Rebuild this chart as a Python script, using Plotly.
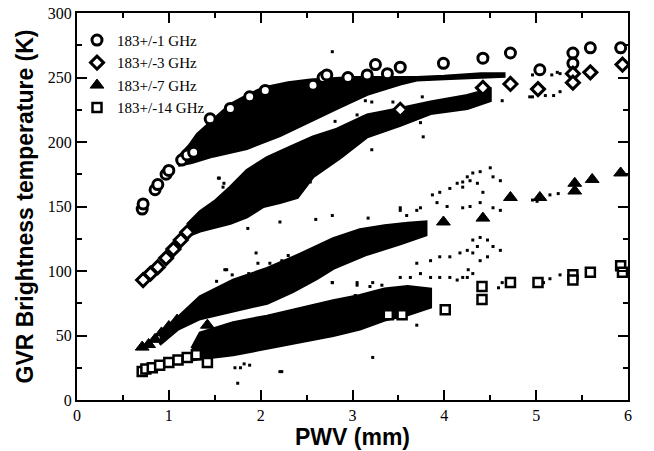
import plotly.graph_objects as go

# ---------------- data ----------------
channels = ["183+/-1 GHz", "183+/-3 GHz", "183+/-7 GHz", "183+/-14 GHz"]

# model points (large symbols)
m1_pwv = [0.71, 0.72, 0.85, 0.88, 0.97, 1.00, 1.14, 1.20, 1.27, 1.45, 1.67, 1.88, 2.05, 2.57, 2.68,
          2.72, 2.95, 3.16, 3.25, 3.38, 3.52, 3.99, 4.42, 4.72, 5.04, 5.40, 5.40, 5.59, 5.92]
m1_tb = [148, 152, 163, 167, 175, 178, 186, 190, 192, 218, 226, 235, 240, 244, 250,
         252, 250, 252, 260, 253, 258, 261, 265, 269, 256, 269, 261, 273, 273]

m3_pwv = [0.72, 0.80, 0.88, 0.97, 1.05, 1.13, 1.20, 3.52, 4.42, 4.72, 5.02, 5.40, 5.40, 5.59, 5.94]
m3_tb = [93, 98, 103, 110, 117, 124, 130, 225, 242, 245, 241, 253, 246, 254, 260]

m7_pwv = [0.71, 0.78, 0.85, 0.92, 1.00, 1.09, 1.42, 3.99, 4.42, 4.72, 5.04, 5.42, 5.42, 5.61, 5.92]
m7_tb = [41, 43, 47, 52, 57, 62, 58, 138, 141, 157, 157, 168, 162, 171, 176]

m14_pwv = [0.71, 0.75, 0.82, 0.90, 1.00, 1.10, 1.20, 1.30, 1.42, 3.39, 3.54, 4.01, 4.41, 4.41,
           4.72, 5.02, 5.40, 5.40, 5.59, 5.92, 5.94]
m14_tb = [22, 24, 25, 27, 29, 31, 33, 35, 29, 66, 66, 70, 88, 78,
          91, 91, 97, 93, 99, 104, 99]

# dense measurement clouds: upper and lower outline of each band
b1_up_pwv = [1.10, 1.22, 1.31, 1.45, 1.67, 1.85, 2.03, 2.30, 2.54, 3.00, 3.70, 4.00, 4.40, 4.65]
b1_up_tb = [188, 197, 206, 215, 229, 236, 242, 246, 248, 250, 250, 251, 253, 253]
b1_lo_pwv = [4.65, 4.00, 3.70, 3.52, 3.16, 2.86, 2.57, 2.21, 1.85, 1.48, 1.25, 1.10]
b1_lo_tb = [251, 249, 248, 245, 237, 227, 217, 205, 195, 189, 184, 182]

b3_up_pwv = [1.20, 1.34, 1.50, 1.67, 1.85, 2.07, 2.32, 2.57, 2.83, 3.16, 3.52, 3.85, 4.25, 4.50]
b3_up_tb = [136, 146, 154, 165, 178, 188, 196, 204, 210, 221, 226, 231, 236, 241]
b3_lo_pwv = [4.50, 4.25, 3.85, 3.52, 3.16, 2.87, 2.57, 2.40, 2.21, 2.03, 1.85, 1.67, 1.34, 1.20]
b3_lo_tb = [232, 226, 222, 213, 204, 188, 173, 157, 153, 150, 142, 137, 131, 127]

b7_up_pwv = [0.90, 1.10, 1.34, 1.70, 2.07, 2.43, 2.79, 3.08, 3.35, 3.60, 3.80]
b7_up_tb = [52, 64, 80, 93, 102, 113, 125, 132, 135, 137, 138]
b7_lo_pwv = [3.80, 3.52, 3.16, 2.79, 2.61, 2.35, 2.07, 1.70, 1.34, 1.10, 0.90]
b7_lo_tb = [128, 121, 113, 102, 94, 84, 75, 69, 63, 55, 43]

b14_up_pwv = [1.25, 1.34, 1.70, 2.07, 2.43, 2.79, 3.08, 3.35, 3.60, 3.85]
b14_up_tb = [40, 52, 60, 65, 71, 77, 81, 86, 88, 86]
b14_lo_pwv = [3.85, 3.60, 3.35, 3.08, 2.79, 2.43, 2.07, 1.70, 1.34, 1.25]
b14_lo_tb = [72, 66, 62, 55, 50, 45, 40, 35, 32, 31]

# sparse individual measurements
dot_pwv = [3.76, 3.14, 3.21, 3.44, 2.78, 2.83, 3.05, 3.74, 3.77, 3.21, 2.81, 2.54, 3.52, 2.78,
           4.63, 4.93, 5.19, 5.23, 4.96, 5.17, 5.26, 4.96, 5.10, 5.26,
           3.87, 3.95, 4.06, 4.14, 4.20, 4.25, 4.31, 4.36, 3.92, 4.03, 3.52, 3.59, 3.70, 3.74,
           2.78, 3.17, 4.28, 4.39, 4.50, 4.53, 4.61, 4.20, 4.42, 4.28, 4.39, 4.53, 4.61, 4.20,
           4.96, 5.01, 5.15, 5.24,
           3.85, 3.95, 4.06, 4.17, 4.25, 4.31, 4.36, 3.52, 3.63, 3.74, 3.85, 3.95, 4.06, 4.14,
           4.20, 4.26, 3.70, 3.22, 3.32, 2.78, 3.19, 3.05, 4.31, 4.39, 4.47, 4.53, 4.61, 4.39,
           4.47, 4.25, 4.31, 4.63, 4.59, 4.99, 5.08, 5.15, 5.26,
           1.75, 2.23, 1.78, 1.82, 1.63, 1.87, 3.22, 3.70, 1.55, 1.60, 2.25, 1.95, 2.60,
           1.54, 1.59, 1.86, 2.21, 1.61, 1.52, 1.69, 1.97, 2.10, 2.23, 2.30, 2.78, 3.05, 3.03,
           1.72, 1.88, 2.21]
dot_tb = [235, 232, 231, 231, 230, 231, 221, 215, 204, 194, 216, 169, 149, 270,
          232, 235, 236, 254, 252, 252, 253, 235, 236, 239,
          159, 161, 164, 168, 169, 173, 176, 168, 153, 150, 147, 143, 147, 149,
          143, 141, 170, 177, 180, 173, 170, 165, 161, 150, 153, 149, 147, 149,
          155, 154, 159, 160,
          108, 111, 111, 114, 116, 114, 119, 95, 95, 98, 95, 95, 95, 93,
          95, 101, 106, 91, 89, 91, 88, 89, 124, 126, 124, 119, 116, 108,
          111, 95, 98, 91, 87, 91, 91, 94, 97,
          13, 22, 25, 28, 101, 98, 33, 58, 172, 168, 166, 114, 140,
          172, 165, 133, 138, 101, 92, 97, 106, 106, 108, 112, 91, 91, 81,
          25, 27, 22]

# ---------------- figure ----------------
fig = go.Figure()

bands = [(b1_up_pwv, b1_up_tb, b1_lo_pwv, b1_lo_tb),
         (b3_up_pwv, b3_up_tb, b3_lo_pwv, b3_lo_tb),
         (b7_up_pwv, b7_up_tb, b7_lo_pwv, b7_lo_tb),
         (b14_up_pwv, b14_up_tb, b14_lo_pwv, b14_lo_tb)]
for upx, upy, lox, loy in bands:
    fig.add_trace(go.Scatter(x=upx + lox, y=upy + loy, mode="lines", fill="toself",
                             fillcolor="black", line=dict(color="black", width=3),
                             showlegend=False, hoverinfo="skip"))

fig.add_trace(go.Scatter(x=dot_pwv, y=dot_tb, mode="markers", showlegend=False,
                         marker=dict(symbol="square", size=3, color="black")))

models = [(m1_pwv, m1_tb, "circle", 10, "white", 3),
          (m3_pwv, m3_tb, "diamond", 10, "white", 3),
          (m7_pwv, m7_tb, "triangle-up", 12, "black", 1),
          (m14_pwv, m14_tb, "square", 9, "white", 2.5)]
for name, (px, py, sym, sz, fc, lw) in zip(channels, models):
    fig.add_trace(go.Scatter(x=px, y=py, mode="markers", name=name,
                             marker=dict(symbol=sym, size=sz, color=fc,
                                         line=dict(color="black", width=lw))))

serif = "Liberation Serif, Times New Roman, serif"
axis_common = dict(showline=True, linecolor="black", linewidth=2, mirror="allticks",
                   ticks="inside", ticklen=10, tickwidth=1.5, tickcolor="black",
                   showgrid=False, zeroline=False, automargin=False,
                   tickfont=dict(family=serif, size=16, color="black"))

fig.update_xaxes(range=[0, 6], dtick=1, tick0=0,
                 minor=dict(dtick=0.5, ticks="inside", ticklen=5, tickwidth=1.5, tickcolor="black"),
                 title=dict(text="PWV (mm)", standoff=6,
                            font=dict(family="Liberation Sans", size=23, color="black", weight="bold")),
                 **axis_common)
fig.update_yaxes(range=[0, 300], dtick=50, tick0=0,
                 minor=dict(dtick=25, ticks="inside", ticklen=5, tickwidth=1.5, tickcolor="black"),
                 title=dict(text="GVR Brightness temperature (K)", standoff=8,
                            font=dict(family="Liberation Sans", size=23, color="black", weight="bold")),
                 **axis_common)

fig.update_layout(
    width=654, height=451,
    margin=dict(l=77, r=26, t=13, b=51),
    paper_bgcolor="white", plot_bgcolor="white",
    showlegend=True,
    legend=dict(x=0.0, y=0.972, xanchor="left", yanchor="top", bgcolor="rgba(0,0,0,0)",
                font=dict(family=serif, size=15, color="black"),
                itemwidth=30, tracegroupgap=0),
)

fig.write_html("out.html", config={"displayModeBar": False},
               post_script="document.body.style.margin='0px';")
